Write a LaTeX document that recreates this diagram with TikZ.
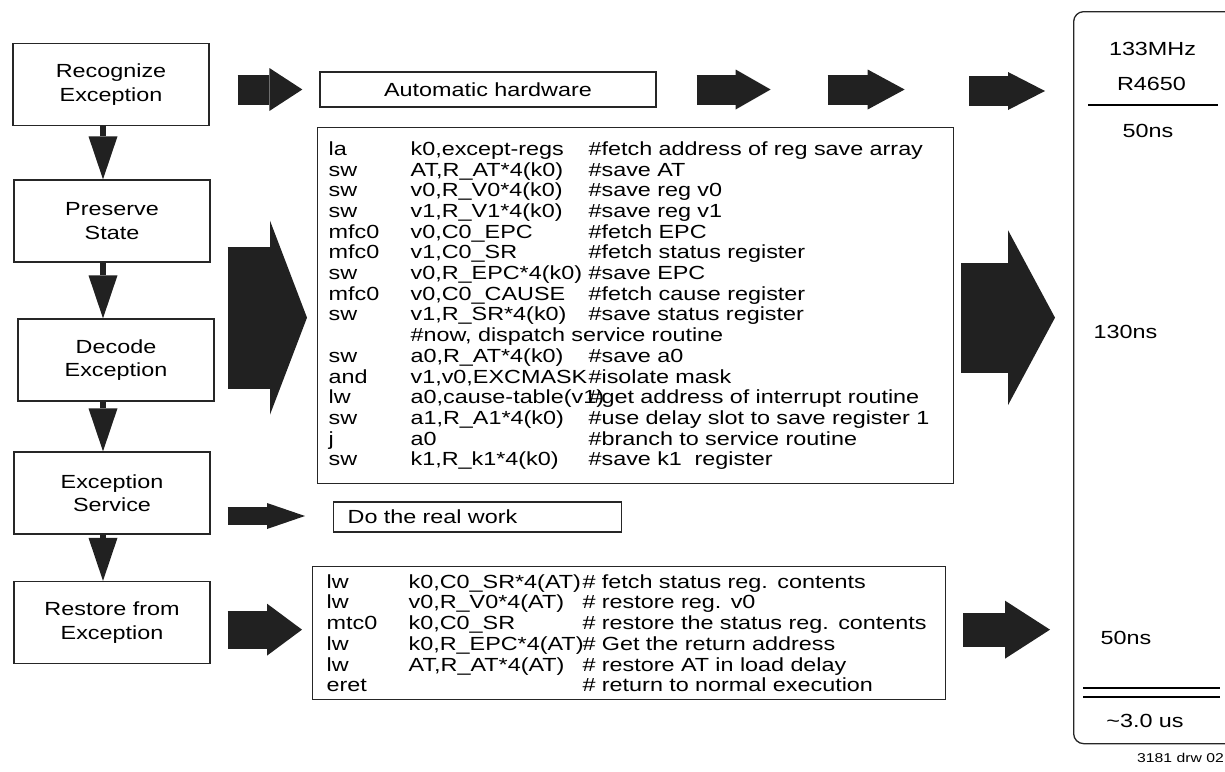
\documentclass[tikz,border=0pt]{standalone}
\usepackage{fontspec}
\setmainfont{Liberation Sans}[FakeStretch=1.23]
\usetikzlibrary{arrows.meta, calc}

% one row of assembler: opcode, operands, comment
\newcommand{\cl}[4][178pt]{\makebox[82pt][l]{#2}\makebox[#1][l]{#3}#4}

\begin{document}
\begin{tikzpicture}[x=1pt, y=-1pt,
    stepbox/.style = {draw=black!85, line width=1.3pt, minimum width=196, minimum height=82, align=center, font={\fontsize{19}{23.5}\selectfont}},
    codebox/.style = {draw=black!85, line width=1.3pt, anchor=north west, align=left, font={\fontsize{19}{20.7}\selectfont}},
    plain/.style = {font={\fontsize{19}{23}\selectfont}},
    downarrow/.style = {draw=black!87, line width=6pt, -{Triangle[width=29pt, length=43pt, line width=0pt]}},
    bigarrow/.style n args = {3}{draw=black!87, line width=#1, -{Triangle[width=#2, length=#3, line width=0pt]}}]

    \useasboundingbox (0,0) rectangle (1225,771);
    \clip (0,0) rectangle (1225,771);

    % steps
    \node[stepbox] (rec)  at (111,84.5)  {Recognize\\Exception};
    \node[stepbox] (pres) at (112,221)   {Preserve\\State};
    \node[stepbox] (dec)  at (116,360)   {Decode\\Exception};
    \node[stepbox] (serv) at (112,493)   {Exception\\Service};
    \node[stepbox] (rest) at (112,622.5) {Restore from\\Exception};

    \coordinate (spine) at (103,0);
    \draw[downarrow] (rec.south -| spine)  -- (pres.north -| spine);
    \draw[downarrow] (pres.south -| spine) -- (dec.north -| spine);
    \draw[downarrow] (dec.south -| spine)  -- (serv.north -| spine);
    \draw[downarrow] (serv.south -| spine) -- (rest.north -| spine);

    % middle column
    \node[plain, draw=black!85, line width=1.3pt, minimum width=336, minimum height=35] (hw) at (488,89.5) {Automatic hardware};

    \node[codebox, inner xsep=11, text width=614, minimum height=356] (save) at (317,127) {%
        \cl{la}{k0,except-regs}{\#fetch address of reg save array}\\
        \cl{sw}{AT,R\_AT*4(k0)}{\#save AT}\\
        \cl{sw}{v0,R\_V0*4(k0)}{\#save reg v0}\\
        \cl{sw}{v1,R\_V1*4(k0)}{\#save reg v1}\\
        \cl{mfc0}{v0,C0\_EPC}{\#fetch EPC}\\
        \cl{mfc0}{v1,C0\_SR}{\#fetch status register}\\
        \cl{sw}{v0,R\_EPC*4(k0)}{\#save EPC}\\
        \cl{mfc0}{v0,C0\_CAUSE}{\#fetch cause register}\\
        \cl{sw}{v1,R\_SR*4(k0)}{\#save status register}\\
        \cl{}{\#now, dispatch service routine}{}\\
        \cl{sw}{a0,R\_AT*4(k0)}{\#save a0}\\
        \cl{and}{v1,v0,EXCMASK}{\#isolate mask}\\
        \cl{lw}{a0,cause-table(v1)}{\#get address of interrupt routine}\\
        \cl{sw}{a1,R\_A1*4(k0)}{\#use delay slot to save register 1}\\
        \cl{j}{a0}{\#branch to service routine}\\
        \cl{sw}{k1,R\_k1*4(k0)}{\#save k1\ \ register}};

    \node[plain, draw=black!85, line width=1.3pt, anchor=west, inner xsep=14, text width=260, minimum height=30] (work) at (333,517) {Do the real work};

    \node[codebox, inner xsep=14, text width=605, minimum height=133] (rcode) at (312,566) {%
        \cl[174pt]{lw}{k0,C0\_SR*4(AT)}{\# fetch status reg. contents}\\
        \cl[174pt]{lw}{v0,R\_V0*4(AT)}{\# restore reg. v0}\\
        \cl[174pt]{mtc0}{k0,C0\_SR}{\# restore the status reg. contents}\\
        \cl[174pt]{lw}{k0,R\_EPC*4(AT)}{\# Get the return address}\\
        \cl[174pt]{lw}{AT,R\_AT*4(AT)}{\# restore AT in load delay}\\
        \cl[174pt]{eret}{}{\# return to normal execution}};

    % timing panel
    \node[draw=black!85, line width=1.3pt, rounded corners=10pt, anchor=north west, minimum width=170, minimum height=732] (panel) at (1073,11) {};
    \node[plain, anchor=base] (mhz)  at (1152.5,55) {133MHz};
    \node[plain, anchor=base] (chip) at (1151.5,90) {R4650};
    \draw[line width=1.5pt] (1088,105) -- (1218,105);
    \node[plain, anchor=base] (t1) at (1148,137) {50ns};
    \node[plain, anchor=base west] (t2) at (1090,338) {130ns};
    \node[plain, anchor=base west] (t3) at (1097,644) {50ns};
    \draw[line width=1.5pt] (1083,688) -- (1220,688);
    \draw[line width=1.5pt] (1083,697) -- (1220,697);
    \node[plain, anchor=base] (total) at (1145,727) {\textasciitilde3.0 us};
    \node[font={\fontsize{12.8}{14}\selectfont}, anchor=base east, inner xsep=1] (drw) at (1225,762) {3181 drw 02};

    % block arrows
    \draw[bigarrow={30pt}{43pt}{33pt}] ($(rec.east |- hw.west)+(28,0)$) -- ($(hw.west)+(-17,0)$);
    \draw[bigarrow={30pt}{40pt}{35pt}] ($(hw.east)+(40,0)$) -- ($(hw.east)+(114,0)$);
    \draw[bigarrow={30pt}{40pt}{37pt}] ($(hw.east)+(171,0)$) -- ($(hw.east)+(248,0)$);
    \draw[bigarrow={30pt}{38pt}{37pt}] ($(hw.east -| panel.west)+(-104,1.5)$) -- ($(hw.east -| panel.west)+(-28,1.5)$);
    \draw[bigarrow={142pt}{194pt}{37pt}] ($(pres.east |- save.west)+(17,12)$) -- ($(save.west)+(-10,12)$);
    \draw[bigarrow={110pt}{175pt}{47pt}] ($(save.east)+(7,12)$) -- ($(save.east -| panel.west)+(-18,12)$);
    \draw[bigarrow={18pt}{26pt}{38pt}] ($(serv.east |- work.west)+(17,-1)$) -- ($(work.west)+(-28,-1)$);
    \draw[bigarrow={38pt}{52pt}{35pt}] ($(rest.east |- rcode.west)+(17,-3.5)$) -- ($(rcode.west)+(-10,-3.5)$);
    \draw[bigarrow={34pt}{58pt}{45pt}] ($(rcode.east)+(17,-3.5)$) -- ($(rcode.east -| panel.west)+(-23,-3.5)$);
\end{tikzpicture}
\end{document}
